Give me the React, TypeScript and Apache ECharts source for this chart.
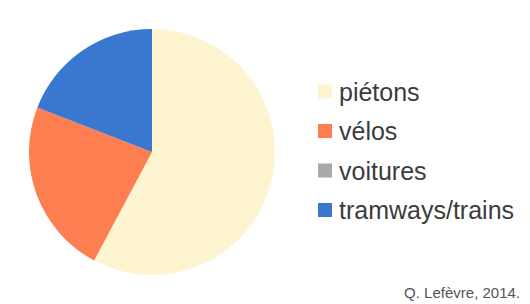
import React, { useEffect, useRef } from "react";
import * as echarts from "echarts";

const categories = ["piétons", "vélos", "voitures", "tramways/trains"];
const values = [57.8, 23.1, 0, 19.1];
const colors = ["#FEF4CF", "#FD7E50", "#A9A9A9", "#3A77CF"];
const credit = "Q. Lefèvre, 2014.";

export default function App() {
  const ref = useRef<HTMLDivElement>(null);
  useEffect(() => {
    if (!ref.current) return;
    const chart = echarts.init(ref.current, undefined, { renderer: "svg" });
    chart.setOption({
      animation: false,
      backgroundColor: "#ffffff",
      color: colors,
      legend: {
        orient: "vertical",
        left: 313,
        top: 74,
        itemWidth: 14,
        itemHeight: 14,
        itemGap: 14.5,
        icon: "rect",
        selectedMode: false,
        itemStyle: { borderWidth: 0 },
        textStyle: {
          fontFamily: "Liberation Sans, Arial, sans-serif",
          fontSize: 25,
          lineHeight: 24,
          color: "#3c3c3c",
          padding: [0, 0, 0, 2],
        },
        data: categories,
      },
      graphic: [
        {
          type: "text",
          right: 10,
          top: 285,
          style: {
            text: credit,
            fontFamily: "Liberation Sans, Arial, sans-serif",
            fontSize: 15,
            fill: "#555555",
          },
        },
      ],
      series: [
        {
          type: "pie",
          center: [152, 152],
          radius: 123,
          startAngle: 90,
          clockwise: true,
          label: { show: false },
          labelLine: { show: false },
          emphasis: { disabled: true },
          itemStyle: { borderWidth: 0 },
          data: categories.map((name, i) => ({ name, value: values[i] })),
        },
      ],
    });
    return () => chart.dispose();
  }, []);
  return (
    <div
      ref={ref}
      style={{ position: "fixed", left: 0, top: 0, width: 530, height: 304 }}
    />
  );
}
